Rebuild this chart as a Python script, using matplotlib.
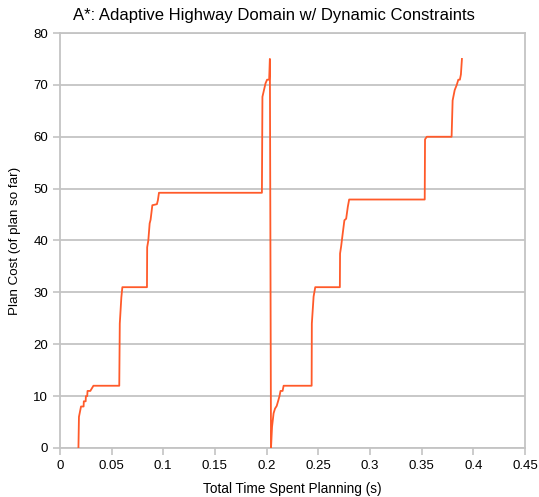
import matplotlib
matplotlib.use("Agg")
import matplotlib.pyplot as plt

# planning time (s) vs plan cost
time_s = [
    0.018, 0.0185, 0.0195, 0.0205, 0.023, 0.0232, 0.025, 0.0252, 0.0265, 0.0268,
    0.0295, 0.0325, 0.0575, 0.058, 0.0595, 0.0605, 0.0843, 0.0845, 0.0856, 0.0869,
    0.0878, 0.0895, 0.0939, 0.0949, 0.0959, 0.1955, 0.196, 0.1975, 0.199, 0.2005,
    0.2025, 0.2032, 0.2043, 0.2053, 0.2068, 0.2082, 0.2098, 0.2114, 0.2125, 0.2135,
    0.2155, 0.2165, 0.2436, 0.2438, 0.2455, 0.2471, 0.2709, 0.2711, 0.2721, 0.2737,
    0.2753, 0.2770, 0.2786, 0.2799, 0.3530, 0.3533, 0.3550, 0.3790, 0.3800, 0.3820,
    0.3840, 0.3855, 0.3870, 0.3880, 0.3890,
]
plan_cost = [
    0, 6, 7, 8, 8, 9, 9, 10, 10, 11,
    11, 12, 12, 24, 29, 31, 31, 38.7, 40, 43.3,
    44, 46.8, 47, 47.8, 49.2, 49.2, 67.7, 69, 70.3, 71,
    71, 75, 0, 4.1, 6.7, 7.6, 8.1, 9.2, 10, 11,
    11, 12, 12, 24, 29.2, 31, 31, 37.5, 38.8, 41.4,
    43.9, 44.2, 46.5, 47.9, 47.9, 59.5, 60, 60, 67, 69,
    70, 71, 71, 72, 75,
]

x_ticks = [0, 0.05, 0.1, 0.15, 0.2, 0.25, 0.3, 0.35, 0.4, 0.45]
x_tick_labels = ["0", "0.05", "0.1", "0.15", "0.2", "0.25", "0.3", "0.35", "0.4", "0.45"]
y_ticks = [0, 10, 20, 30, 40, 50, 60, 70, 80]

plt.rcParams["font.family"] = ["Liberation Sans", "DejaVu Sans"]

fig = plt.figure(figsize=(5.39, 4.97), dpi=100)
ax = fig.add_axes([0.111, 0.0986, 0.863, 0.835])

ax.plot(time_s, plan_cost, color="#ff5a2a", lw=1.3, zorder=3)

ax.set_xlim(0, 0.45)
ax.set_ylim(0, 80)
ax.set_xticks(x_ticks)
ax.set_xticklabels(x_tick_labels)
ax.set_yticks(y_ticks)
ax.yaxis.grid(True, color="#c4c4c4", lw=1.3)
ax.set_axisbelow(True)
for s in ax.spines.values():
    s.set_color("#c4c4c4")
    s.set_linewidth(1.3)
ax.tick_params(colors="#c4c4c4", labelcolor="black", labelsize=9.5, length=5, width=1.2)

fig.text(0.508, 0.968, "A*: Adaptive Highway Domain w/ Dynamic Constraints",
         fontsize=12, ha="center", va="center")
ax.set_xlabel("Total Time Spent Planning (s)", fontsize=9.8, labelpad=7)
ax.set_ylabel("Plan Cost (of plan so far)", fontsize=9.6, labelpad=9)

fig.savefig("out.png", dpi=100)
